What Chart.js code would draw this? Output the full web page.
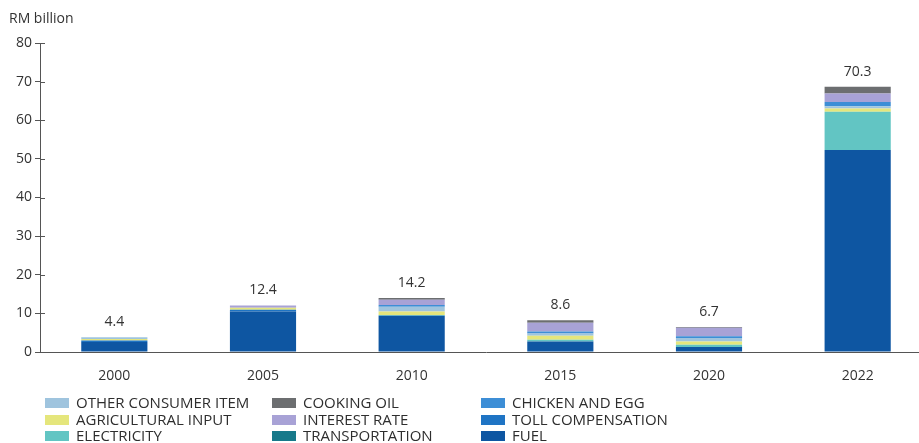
<!DOCTYPE html>
<html>
<head>
<meta charset="utf-8">
<script src="https://cdn.jsdelivr.net/npm/chart.js@4.4.0/dist/chart.umd.min.js"></script>
<style>
  body { margin: 0; background: #fff; overflow: hidden; width: 919px; height: 443px; }
  #wrap { position: relative; width: 935px; height: 443px; }
  #unit { position: absolute; left: 9px; top: 8px; font: 14px "Open Sans", sans-serif; color: #333; }
  #legend { position: absolute; left: 0; top: 394px; font: 15px "Open Sans", sans-serif; color: #2e2e2e; }
  .item { position: absolute; white-space: nowrap; line-height: 17px; }
  .sw { display: inline-block; width: 24px; height: 10px; margin-right: 7px; vertical-align: 0px; }
</style>
</head>
<body>
<div id="wrap">
  <canvas id="myChart" width="935" height="443"></canvas>
  <div id="unit">RM billion</div>
  <div id="legend"></div>
</div>
<script>
// years and the totals written above each bar
const years = ['2000', '2005', '2010', '2015', '2020', '2022']
const totals = ['4.4', '12.4', '14.2', '8.6', '6.7', '70.3']

// stacked from the bottom up, RM billion
const fuel       = [2.6, 10.5, 9.4, 2.7, 1.3, 52.3]
const toll       = [0.4, 0.45, 0, 0, 0, 0]
const transport  = [0, 0, 0, 0, 0, 0]
const electric   = [0, 0, 0.2, 0.5, 0.6, 9.9]
const agri       = [0.35, 0.5, 0.9, 1.0, 0.85, 0.85]
const otherItems = [0.45, 0, 1.2, 0.6, 0.85, 0.6]
const chicken    = [0, 0, 0.5, 0.5, 0.45, 1.1]
const interest   = [0, 0.6, 1.3, 2.25, 2.2, 2.15]
const cookingOil = [0, 0, 0.5, 0.7, 0.2, 1.75]

const yTicks = [0, 10, 20, 30, 40, 50, 60, 70, 80]

const sets = [
  { label: 'FUEL', data: fuel, backgroundColor: '#0e56a2' },
  { label: 'TOLL COMPENSATION', data: toll, backgroundColor: '#1f74c4' },
  { label: 'TRANSPORTATION', data: transport, backgroundColor: '#17798a' },
  { label: 'ELECTRICITY', data: electric, backgroundColor: '#62c5c3' },
  { label: 'AGRICULTURAL INPUT', data: agri, backgroundColor: '#e5e67c' },
  { label: 'OTHER CONSUMER ITEM', data: otherItems, backgroundColor: '#9fc4de' },
  { label: 'CHICKEN AND EGG', data: chicken, backgroundColor: '#3d8ed6' },
  { label: 'INTEREST RATE', data: interest, backgroundColor: '#a8a2d6' },
  { label: 'COOKING OIL', data: cookingOil, backgroundColor: '#6c6e70' }
]

// legend is column by column in the picture
const legendCols = [
  ['OTHER CONSUMER ITEM', 'AGRICULTURAL INPUT', 'ELECTRICITY'],
  ['COOKING OIL', 'INTEREST RATE', 'TRANSPORTATION'],
  ['CHICKEN AND EGG', 'TOLL COMPENSATION', 'FUEL']
]
const colX = [45, 272, 481]

crossTicks = {
  id: 'crossTicks',
  afterDraw: (chart) => {
    var s = chart.scales.y
    var c = chart.ctx
    c.save()
    c.strokeStyle = '#555'
    c.lineWidth = 1
    yTicks.forEach(v => {
      var y = Math.round(s.getPixelForValue(v)) + 0.5
      c.beginPath()
      c.moveTo(s.right, y)
      c.lineTo(s.right + 5, y)
      c.stroke()
    })
    c.restore()
  }
}

topLabels = {
  id: 'topLabels',
  afterDatasetsDraw: (chart) => {
    var c = chart.ctx
    var meta = chart.getDatasetMeta(sets.length - 1)
    c.save()
    c.font = '14px "Open Sans", sans-serif'
    c.fillStyle = '#333'
    c.textAlign = 'center'
    c.textBaseline = 'middle'
    meta.data.forEach((bar, i) => {
      c.fillText(totals[i], bar.x, bar.y - 15)
    })
    c.restore()
  }
}

var ctx = document.getElementById('myChart').getContext('2d')
var chart = new Chart(ctx, {
  type: 'bar',
  data: {
    labels: years,
    datasets: sets.map(d => Object.assign({ borderWidth: 0, categoryPercentage: 1, barPercentage: 0.445 }, d))
  },
  options: {
    responsive: false,
    animation: false,
    layout: { padding: { top: 43, left: 0, right: 3, bottom: 43 } },
    plugins: { legend: { display: false }, tooltip: { enabled: false } },
    scales: {
      x: {
        stacked: true,
        grid: { display: false, drawTicks: false },
        border: { display: true, color: '#555', width: 1 },
        ticks: { color: '#333', font: { family: 'Open Sans', size: 14 }, padding: 16 },
        afterFit: (s) => { s.height = 48 }
      },
      y: {
        stacked: true,
        min: 0,
        max: 80,
        ticks: { stepSize: 10, color: '#333', font: { family: 'Open Sans', size: 14 }, padding: 3 },
        grid: { drawOnChartArea: false, drawTicks: true, tickLength: 5, color: '#555' },
        border: { display: true, color: '#555', width: 1 },
        afterFit: (s) => { s.width = 40 }
      }
    }
  },
  plugins: [crossTicks, topLabels]
})

var lg = document.getElementById('legend')
legendCols.forEach((col, ci) => {
  col.forEach((name, ri) => {
    var d = sets.find(s => s.label === name)
    var el = document.createElement('div')
    el.className = 'item'
    el.style.left = colX[ci] + 'px'
    el.style.top = (ri * 16.5) + 'px'
    el.innerHTML = '<span class="sw" style="background:' + d.backgroundColor + '"></span>' + name
    lg.appendChild(el)
  })
})
</script>
</body>
</html>
